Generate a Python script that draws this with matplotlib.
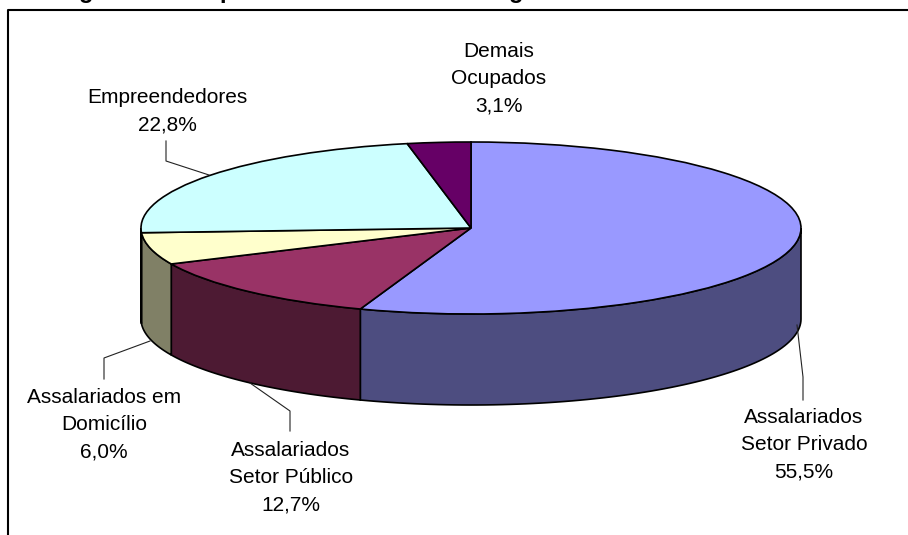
import numpy as np
import matplotlib
matplotlib.use('Agg')
import matplotlib.pyplot as plt

plt.rcParams['font.family'] = ['Liberation Sans', 'DejaVu Sans']

WIDTH, HEIGHT = 908, 535
CX, CY, RX, RY, DEPTH = 471, 228, 330, 86, 91

categories = ['Assalariados\nSetor Privado', 'Assalariados\nSetor Público',
              'Assalariados em\nDomicílio', 'Empreendedores', 'Demais\nOcupados']
values = [55.5, 12.7, 6.0, 22.8, 3.1]
value_labels = ['55,5%', '12,7%', '6,0%', '22,8%', '3,1%']
top_colors = ['#9999FF', '#993366', '#FFFFCC', '#CCFFFF', '#660066']
side_colors = ['#4D4D80', '#4D1A33', '#808066', '#668080', '#330033']

label_pos = [(804, 445), (291, 478), (104, 425), (167, 111), (499, 79)]
leaders = [
    [(797, 325), (803, 377), (803, 400)],
    [(250, 383), (290, 411), (290, 431)],
    [(150, 341), (104, 358), (104, 379)],
    [(209, 175), (166, 161), (166, 141)],
]


def ux(x):
    return (np.asarray(x, dtype=float) - CX) / RX


def uy(y):
    return (CY - np.asarray(y, dtype=float)) / RY


def draw_side(ax, start, end, color):
    # only the front half of the rim can be seen
    a = max(start, 90)
    b = min(end, 270)
    if b <= a:
        return
    t = np.radians(np.linspace(a, b, 80))
    x = np.sin(t)
    y = np.cos(t)
    low = y - DEPTH / RY
    ax.fill(np.r_[x, x[::-1]], np.r_[y, low[::-1]], facecolor=color,
            edgecolor='black', linewidth=1.2, zorder=0.5)


fig = plt.figure(figsize=(WIDTH / 100, HEIGHT / 100), dpi=100)
ax = fig.add_axes([0, 0, 1, 1])

ax.pie(values, colors=top_colors, startangle=90, counterclock=False,
       wedgeprops={'edgecolor': 'black', 'linewidth': 1.2})
ax.set_aspect('auto')
ax.set_xlim(ux(0), ux(WIDTH))
ax.set_ylim(uy(HEIGHT), uy(0))
ax.axis('off')

edges = np.r_[0, np.cumsum(values)] / np.sum(values) * 360
for i, color in enumerate(side_colors):
    draw_side(ax, edges[i], edges[i + 1], color)

for name, val, (x, y) in zip(categories, value_labels, label_pos):
    ax.text(ux(x), uy(y), name + '\n' + val, ha='center', va='center',
            fontsize=15, linespacing=1.56, color='black')

for pts in leaders:
    xs, ys = zip(*pts)
    ax.plot(ux(xs), uy(ys), color='#222222', linewidth=0.8, zorder=3)

# chart frame: only the top and left edges fall inside the crop
ax.plot(ux([8, 8, WIDTH]), uy([HEIGHT, 10, 10]), color='black', linewidth=1.5,
        clip_on=False, zorder=3)

# title is cut off by the crop, just its descenders show
for letter, x in [('g', 86), ('p', 227), ('g', 516)]:
    ax.text(ux(x), uy(-2), letter, ha='center', va='baseline', fontsize=17,
            fontweight='bold', color='black')

fig.savefig('out.png', dpi=100)
